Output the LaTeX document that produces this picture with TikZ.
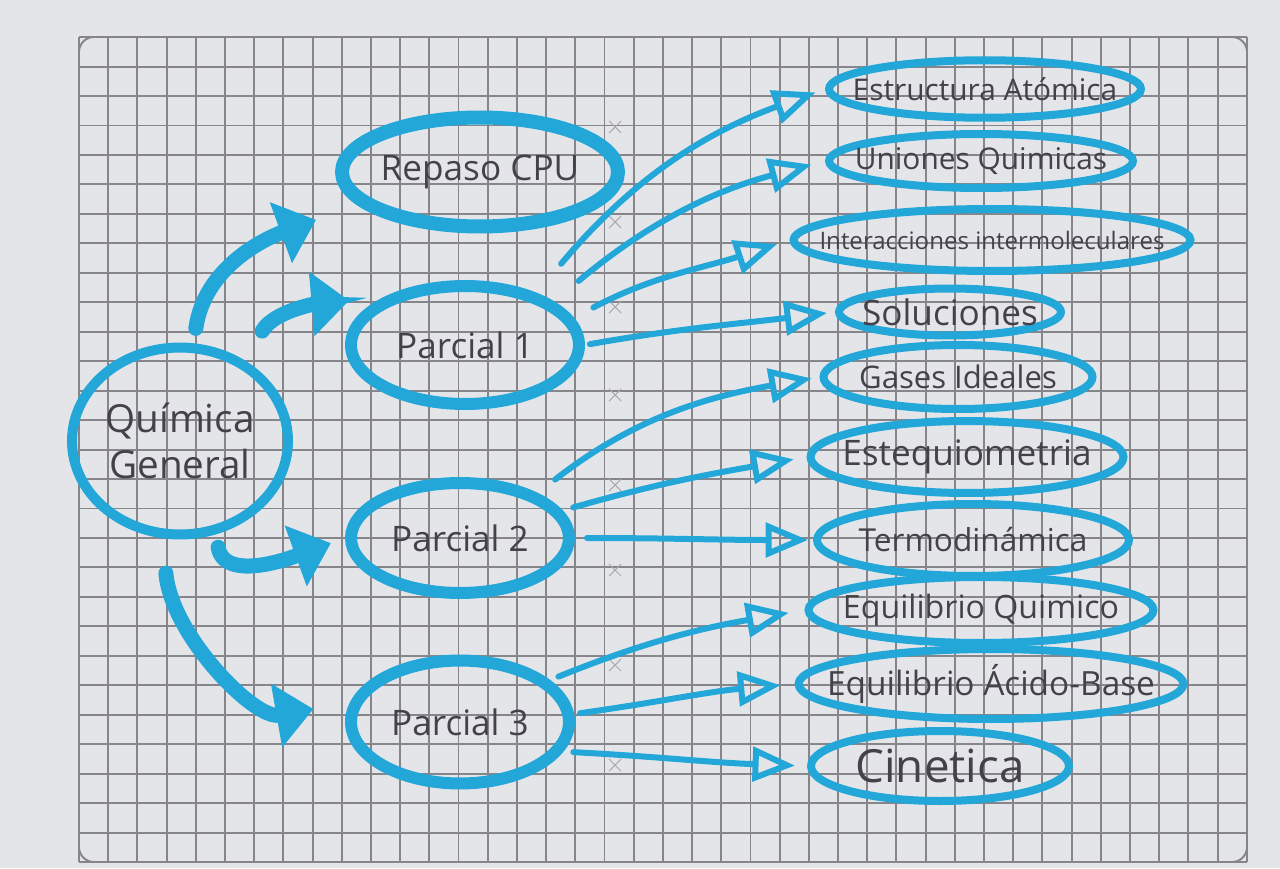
\documentclass[tikz,border=0pt]{standalone}
\usepackage{fontspec}
\setmainfont{Open Sans}
\usetikzlibrary{arrows.meta,shapes.geometric}
\definecolor{mapInk}{HTML}{45414A}
\definecolor{mapCyan}{HTML}{22A7D8}
\definecolor{mapGrid}{HTML}{86868A}
\definecolor{mapPaper}{HTML}{E4E5E9}
\newcommand{\maptext}[1]{\makebox[0pt]{#1}}
\tikzset{
  every picture/.style={font=\fontsize{17}{20}\selectfont, text=mapInk},
  map hub/.style={ellipse, draw=mapCyan, line width=0.2cm, inner sep=0pt,
    align=center, font=\fontsize{22}{26}\selectfont},
  map part/.style={ellipse, draw=mapCyan, line width=0.24cm, inner sep=0pt,
    font=\fontsize{20}{24}\selectfont},
  map topic/.style={ellipse, draw=mapCyan, line width=0.16cm, inner sep=0pt},
  map thick arrow/.style={-{Triangle[length=7.5mm,width=12.5mm]},
    draw=mapCyan, line width=0.3cm, line cap=round},
  map thin arrow/.style={-{Triangle[open,length=8.5mm,width=6.8mm]},
    draw=mapCyan, line width=0.12cm, line cap=round, line join=round},
  map grid/.style={draw=mapGrid, line width=1.1pt},
  map cross/.style={draw=mapGrid!70, line width=0.6pt}
}
\begin{document}
\begin{tikzpicture}[x=0.02cm,y=0.02cm]
  \useasboundingbox (0,0) rectangle (1280,-868);
  \fill[mapPaper] (0,0) rectangle (1280,-868);
  % grid paper
  \begin{scope}[shift={(79,-862)}]
    \draw[map grid, xstep=0.584cm, ystep=0.5893cm] (0,0) grid (1168,825);
  \end{scope}
  \draw[map grid, rounded corners=0.3cm] (79,-37) rectangle (1247,-862);
  \foreach \y in {127,222,307,395,485,570,665,765}
    \draw[map cross] (609,-\y+6) -- (621,-\y-6) (609,-\y-6) -- (621,-\y+6);

  % main topic and exams
  \node[map hub, minimum width=4.32cm, minimum height=3.74cm] (qg) at (180,-441) {\maptext{Química}\\\maptext{General}};
  \node[map part, line width=0.28cm, minimum width=5.52cm, minimum height=2.18cm] (rp) at (480,-172) {\maptext{Repaso CPU}};
  \node[map part, minimum width=4.56cm, minimum height=2.36cm] (p1) at (465,-345) {\maptext{Parcial 1}};
  \node[map part, minimum width=4.36cm, minimum height=2.2cm] (p2) at (460,-538) {\maptext{Parcial 2}};
  \node[map part, minimum width=4.36cm, minimum height=2.46cm] (p3) at (460,-722) {\maptext{Parcial 3}};

  % units
  \node[map topic, minimum width=6.24cm, minimum height=1.15cm, font=\fontsize{17}{20}\selectfont] (ea) at (985,-89) {\maptext{Estructura Atómica}};
  \node[map topic, minimum width=6.08cm, minimum height=1.08cm, font=\fontsize{17}{20}\selectfont] (uq) at (981,-161) {\maptext{Uniones Quimicas}};
  \node[map topic, minimum width=7.94cm, minimum height=1.24cm, font=\fontsize{13.7}{16}\selectfont] (ii) at (992,-240) {\maptext{Interacciones intermoleculares}};
  \node[map topic, minimum width=4.44cm, minimum height=0.94cm, font=\fontsize{20}{24}\selectfont] (so) at (950,-312) {\maptext{Soluciones}};
  \node[map topic, minimum width=5.38cm, minimum height=1.28cm, font=\fontsize{17.7}{21}\selectfont] (gi) at (958,-377) {\maptext{Gases Ideales}};
  \node[map topic, minimum width=6.26cm, minimum height=1.44cm, font=\fontsize{20}{24}\selectfont] (es) at (967,-457) {\maptext{Estequiometria}};
  \node[map topic, minimum width=6.24cm, minimum height=1.44cm, font=\fontsize{18}{22}\selectfont] (te) at (973,-540) {\maptext{Termodinámica}};
  \node[map topic, minimum width=6.9cm, minimum height=1.32cm, font=\fontsize{18.3}{22}\selectfont] (eq) at (981,-610) {\maptext{Equilibrio Quimico}};
  \node[map topic, minimum width=7.7cm, minimum height=1.4cm, font=\fontsize{19}{23}\selectfont] (eab) at (991,-684) {\maptext{Equilibrio Ácido-Base}};
  \node[map topic, minimum width=5.16cm, minimum height=1.4cm, font=\fontsize{26}{30}\selectfont] (ci) at (940,-766) {\maptext{Cinetica}};

  % thick arrows from the main topic
  \draw[map thick arrow, shorten <=0.3cm, shorten >=0.88cm] (qg.82) to[out=82,in=200] (rp.195);
  \draw[map thick arrow, shorten <=0.68cm, shorten >=0.68cm] (qg.51) to[out=60,in=185] (p1.150);
  \draw[map thick arrow, shorten <=0.26cm, shorten >=0.3cm] (qg.291) to[out=-80,in=200] (p2.west);
  \draw[map thick arrow, shorten <=0.7cm, shorten >=0.74cm] (qg.260) to[out=-85,in=190] (p3.170);

  % thin arrows to the units
  \draw[map thin arrow, shorten <=0.76cm, shorten >=0.2cm] (p1.36) to[out=50,in=200] (ea.west);
  \draw[map thin arrow, shorten <=0.64cm, shorten >=0.28cm] (p1.26) to[out=40,in=195] (uq.west);
  \draw[map thin arrow, shorten <=0.44cm, shorten >=0.26cm] (p1.14) to[out=28,in=198] (ii.west);
  \draw[map thin arrow, shorten <=0.1cm, shorten >=0.16cm] (p1.east) to[out=10,in=187] (so.west);
  \draw[map thin arrow, shorten <=0.44cm, shorten >=0.16cm] (p2.30) to[out=38,in=190] (gi.west);
  \draw[map thin arrow, shorten <=0.22cm, shorten >=0.26cm] (p2.15) to[out=16,in=190] (es.west);
  \draw[map thin arrow, shorten <=0.24cm, shorten >=0.1cm] (p2.east) to[out=0,in=180] (te.west);
  \draw[map thin arrow, shorten <=0.18cm, shorten >=0.32cm] (p3.25) to[out=22,in=190] (eq.west);
  \draw[map thin arrow, shorten <=0.12cm, shorten >=0.28cm] (p3.4) to[out=8,in=185] (eab.west);
  \draw[map thin arrow, shorten <=0.2cm, shorten >=0.24cm] (p3.344) to[out=-3,in=178] (ci.west);
\end{tikzpicture}
\end{document}
